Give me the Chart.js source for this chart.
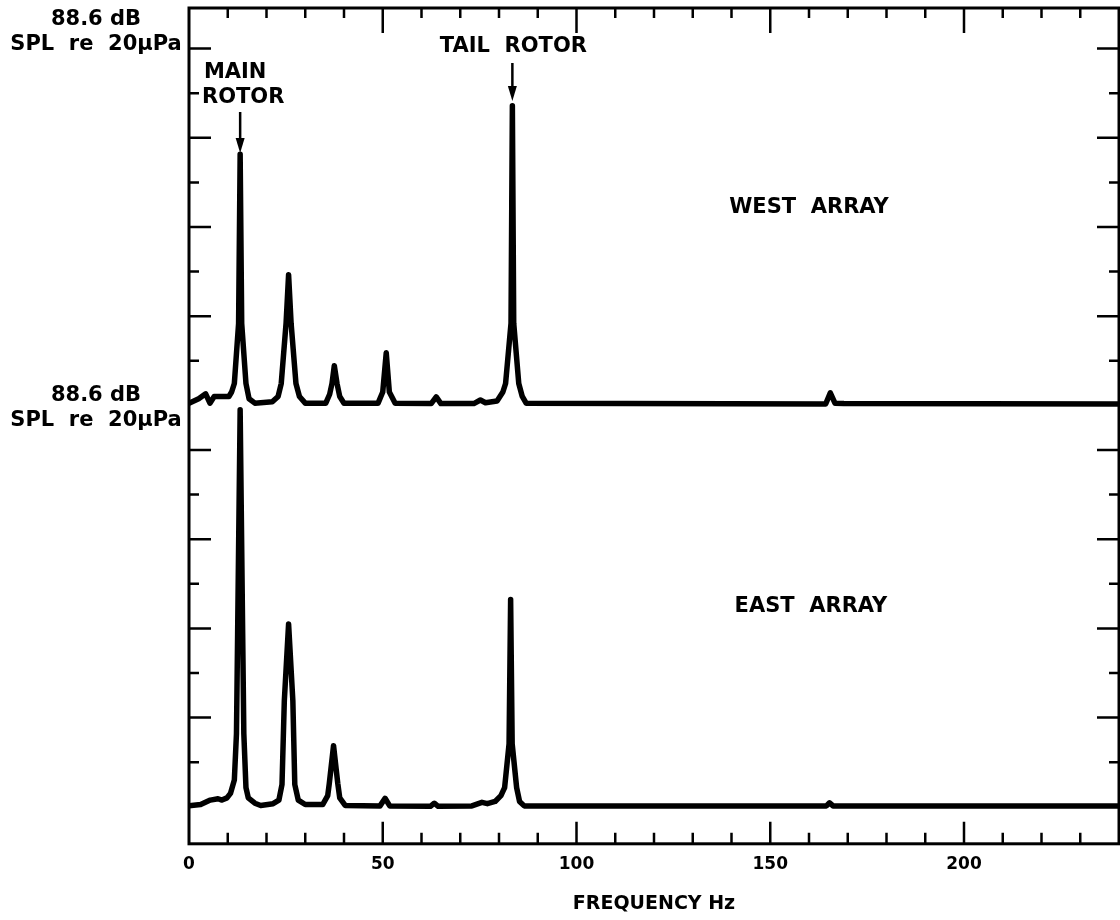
<!DOCTYPE html>
<html>
<head>
<meta charset="utf-8">
<title>Rotor noise spectrum - west / east array</title>
<script src="https://cdn.jsdelivr.net/npm/chart.js@4.4.1/dist/chart.umd.min.js"></script>
<style>
    html, body { margin: 0; padding: 0; background: #fff; overflow: hidden; }
    #wrap { position: relative; width: 1120px; height: 920px; }
    #spectrumChart { display: block; }
</style>
</head>
<body>
<div id="wrap"><canvas id="spectrumChart"></canvas></div>
<script>
// Spectrum levels, in chart divisions above each trace's baseline
// (9 divisions = 88.6 dB SPL re 20 uPa, the top of each panel)

const westFreq  = [0, 2.5, 4.3, 5.4, 6.5, 10.3, 11.0, 11.7, 12.8, 13.2, 13.6, 14.7, 15.5, 17,
                   21.5, 23, 23.8, 25.05, 25.7, 26.35, 27.6, 28.5, 30,
                   35.3, 36.3, 36.9, 37.5, 38.2, 38.9, 40,
                   48.8, 50.0, 50.9, 51.7, 53.2,
                   62.5, 63.8, 65, 73.5, 75.2, 76.5, 79.5,
                   81, 81.7, 83.1, 83.45, 83.8, 85.1, 86, 87,
                   164.3, 165.5, 166.7, 169, 240];
const westLevel = [0.05, 0.15, 0.26, 0.05, 0.2, 0.2, 0.3, 0.49, 1.84, 5.63, 1.84, 0.49, 0.15, 0.05,
                   0.08, 0.2, 0.49, 1.84, 2.93, 1.84, 0.49, 0.2, 0.05,
                   0.05, 0.25, 0.49, 0.89, 0.49, 0.2, 0.05,
                   0.05, 0.3, 1.18, 0.3, 0.05,
                   0.04, 0.19, 0.04, 0.04, 0.12, 0.06, 0.1,
                   0.3, 0.49, 1.84, 6.72, 1.84, 0.49, 0.2, 0.05,
                   0.03, 0.28, 0.05, 0.04, 0.03];

const eastFreq  = [0, 3, 5.5, 7.5, 8.5, 9.8, 10.7, 11.7, 12.25, 12.55, 13.2, 13.85, 14.15, 14.7, 15.3, 17, 18.5,
                   21.7, 23.2, 24.0, 24.6, 25.7, 26.8, 27.3, 28.2, 30,
                   34.5, 35.8, 36.2, 37.3, 38.4, 38.9, 40.3,
                   49.3, 50.6, 51.8, 62.3, 63.3, 64.3,
                   73, 75.6, 77, 79, 80.5, 81.45, 82.6, 83.0, 83.4, 84.55, 85.3, 86.5,
                   164.5, 165.3, 166.2, 240];
const eastLevel = [0.02, 0.05, 0.15, 0.18, 0.15, 0.2, 0.3, 0.6, 1.64, 3.88, 8.9, 3.88, 1.64, 0.43, 0.2, 0.08, 0.03,
                   0.07, 0.15, 0.5, 2.38, 4.1, 2.38, 0.5, 0.15, 0.05,
                   0.05, 0.25, 0.52, 1.37, 0.52, 0.2, 0.03,
                   0.02, 0.19, 0.02, 0.01, 0.08, 0.01,
                   0.02, 0.1, 0.07, 0.12, 0.25, 0.43, 1.41, 4.65, 1.41, 0.43, 0.12, 0.02,
                   0.02, 0.09, 0.02, 0.02];

const freqTickLabels = [0, 50, 100, 150, 200];
const panelDivisions = 9;
const mainRotorFreq = 13.2;
const tailRotorFreq = 83.45;

const FONT = '"DejaVu Sans", "Liberation Sans", sans-serif';

function toPoints(freqs, levels) {
    return freqs.map((f, i) => ({ x: f, y: levels[i] }));
}

// Inward ticks and closed frame, drawn from the scales
const frameTicks = {
    id: 'frameTicks',
    afterDatasetsDraw(chart) {
        const { ctx, chartArea: a, scales } = chart;
        const x = scales.x;
        const y = scales.yEast;
        ctx.save();
        ctx.strokeStyle = '#000';
        ctx.lineWidth = 3;
        ctx.strokeRect(a.left, a.top, a.right - a.left, a.bottom - a.top);

        ctx.lineWidth = 2.5;
        ctx.beginPath();
        x.ticks.forEach(t => {
            if (t.value <= x.min || t.value >= x.max) return;
            const px = x.getPixelForValue(t.value);
            const major = t.value % 50 === 0;
            ctx.moveTo(px, a.bottom);
            ctx.lineTo(px, a.bottom - (major ? 22 : 11));
            ctx.moveTo(px, a.top);
            ctx.lineTo(px, a.top + (major ? 25 : 10));
        });
        for (let k = 1; k <= Math.floor(y.max); k++) {
            const within = k % panelDivisions;
            if (within === 0) continue;
            const py = y.getPixelForValue(k);
            const len = within % 2 === 0 ? 22 : 10;
            ctx.moveTo(a.left, py);
            ctx.lineTo(a.left + len, py);
            ctx.moveTo(a.right, py);
            ctx.lineTo(a.right - len, py);
        }
        ctx.stroke();
        ctx.restore();
    }
};

// Text labels and arrows
const annotations = {
    id: 'annotations',
    afterDraw(chart) {
        const { ctx, chartArea: a, scales } = chart;
        const x = scales.x;
        const yW = scales.yWest;
        const yE = scales.yEast;
        ctx.save();
        ctx.fillStyle = '#000';
        ctx.strokeStyle = '#000';
        ctx.textAlign = 'center';
        ctx.textBaseline = 'middle';
        ctx.font = 'bold 21px ' + FONT;

        // reference level labels
        const lx = a.left - 93;
        ctx.fillText('88.6 dB', lx, 20);
        ctx.fillText('SPL  re  20\u03bcPa', lx, 45);
        const yTopEast = yE.getPixelForValue(panelDivisions);
        ctx.fillText('88.6 dB', lx, yTopEast - 10);
        ctx.fillText('SPL  re  20\u03bcPa', lx, yTopEast + 15);

        ctx.fillText('WEST  ARRAY', x.getPixelForValue(160), yW.getPixelForValue(4.44));
        ctx.fillText('EAST  ARRAY', x.getPixelForValue(160.5), yE.getPixelForValue(4.49));

        // main rotor
        const mx = x.getPixelForValue(mainRotorFreq);
        ctx.fillText('MAIN', mx - 5, 73);
        ctx.fillText('ROTOR', mx + 3, 98);
        drawArrow(ctx, mx, 112, 153);

        // tail rotor
        const tx = x.getPixelForValue(tailRotorFreq);
        ctx.fillText('TAIL  ROTOR', tx + 1, 47);
        drawArrow(ctx, tx, 63, 101);
        ctx.restore();
    }
};

function drawArrow(ctx, px, y1, y2) {
    ctx.lineWidth = 2.5;
    ctx.beginPath();
    ctx.moveTo(px, y1);
    ctx.lineTo(px, y2 - 12);
    ctx.stroke();
    ctx.beginPath();
    ctx.moveTo(px - 4.5, y2 - 15);
    ctx.lineTo(px + 4.5, y2 - 15);
    ctx.lineTo(px, y2);
    ctx.closePath();
    ctx.fill();
}

const traceStyle = {
    borderColor: '#000',
    borderWidth: 5.5,
    pointRadius: 0,
    tension: 0,
    fill: false,
    borderJoinStyle: 'round',
    borderCapStyle: 'round'
};

const spectrumCtx = document.getElementById('spectrumChart');
const spectrumChart = new Chart(spectrumCtx, {
    type: 'line',
    data: {
        datasets: [
            Object.assign({ label: 'West array', data: toPoints(westFreq, westLevel), yAxisID: 'yWest' }, traceStyle),
            Object.assign({ label: 'East array', data: toPoints(eastFreq, eastLevel), yAxisID: 'yEast' }, traceStyle)
        ]
    },
    options: {
        responsive: true,
        maintainAspectRatio: false,
        animation: false,
        layout: { autoPadding: false, padding: { left: 189, right: 1, top: 8, bottom: 0 } },
        plugins: {
            legend: { display: false },
            tooltip: { enabled: false }
        },
        scales: {
            x: {
                type: 'linear',
                position: 'bottom',
                min: 0,
                max: 240,
                // invisible tick marks only push the labels down; the visible
                // inward ticks are drawn by the frameTicks plugin
                grid: {
                    display: true,
                    drawOnChartArea: false,
                    drawTicks: true,
                    tickLength: 11,
                    color: 'rgba(0,0,0,0)'
                },
                border: { display: false },
                ticks: {
                    stepSize: 10,
                    autoSkip: false,
                    maxRotation: 0,
                    padding: 0,
                    color: '#000',
                    font: { family: FONT, size: 17, weight: 'bold' },
                    callback: v => freqTickLabels.includes(v) ? String(v) : ''
                },
                title: {
                    display: true,
                    text: 'FREQUENCY Hz',
                    color: '#000',
                    font: { family: FONT, size: 19, weight: 'bold' },
                    padding: { top: 17, bottom: 5 }
                }
            },
            yEast: {
                type: 'linear',
                display: false,
                min: -0.83,
                max: 17.91
            },
            yWest: {
                type: 'linear',
                display: false,
                min: -9.83,
                max: 8.91
            }
        }
    },
    plugins: [frameTicks, annotations]
});
</script>
</body>
</html>
